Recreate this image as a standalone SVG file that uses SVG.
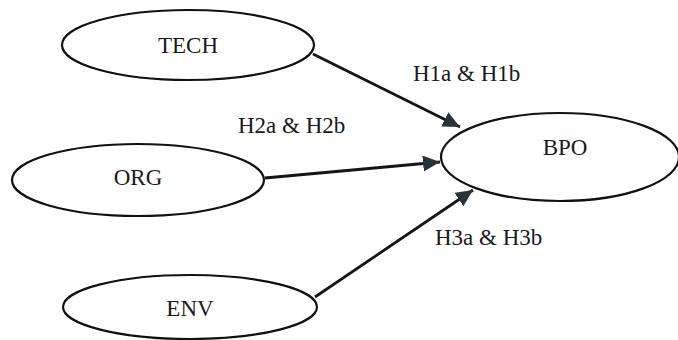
<svg xmlns="http://www.w3.org/2000/svg" width="678" height="340" viewBox="0 0 678 340">
<style>
.node ellipse{fill:#fff;stroke:#111;stroke-width:2.2}
.node text,.lbl{font-family:"Liberation Serif","Times New Roman",serif;font-size:23px;fill:#1a1a1a}
.node text{text-anchor:middle}
.conn line{stroke:#151515;stroke-width:2.8}
</style>
<defs>
<marker id="ah" markerUnits="userSpaceOnUse" markerWidth="18" markerHeight="16" viewBox="0 0 18 16" refX="17" refY="8" orient="auto">
<path d="M0,0 L17,8 L0,16 Z" fill="#2b3236"/>
</marker>
</defs>
<rect width="678" height="340" fill="#fff"/>
<g id="TECH" class="node"><ellipse cx="188" cy="45" rx="126" ry="35"/><text x="188" y="53">TECH</text></g>
<g id="ORG" class="node"><ellipse cx="138" cy="180" rx="126" ry="36"/><text x="138" y="185">ORG</text></g>
<g id="ENV" class="node"><ellipse cx="190" cy="307" rx="127" ry="32"/><text x="190" y="316">ENV</text></g>
<g id="BPO" class="node"><ellipse cx="560" cy="157" rx="119" ry="44"/><text x="565" y="155">BPO</text></g>
<g id="connectors" class="conn">
<line x1="313" y1="54" x2="460" y2="127" marker-end="url(#ah)"/>
<line x1="265" y1="178" x2="440" y2="162" marker-end="url(#ah)"/>
<line x1="315" y1="297" x2="473" y2="190" marker-end="url(#ah)"/>
</g>
<g id="labels">
<text class="lbl" x="413" y="81">H1a &amp; H1b</text>
<text class="lbl" x="238" y="133">H2a &amp; H2b</text>
<text class="lbl" x="435" y="245">H3a &amp; H3b</text>
</g>
</svg>
